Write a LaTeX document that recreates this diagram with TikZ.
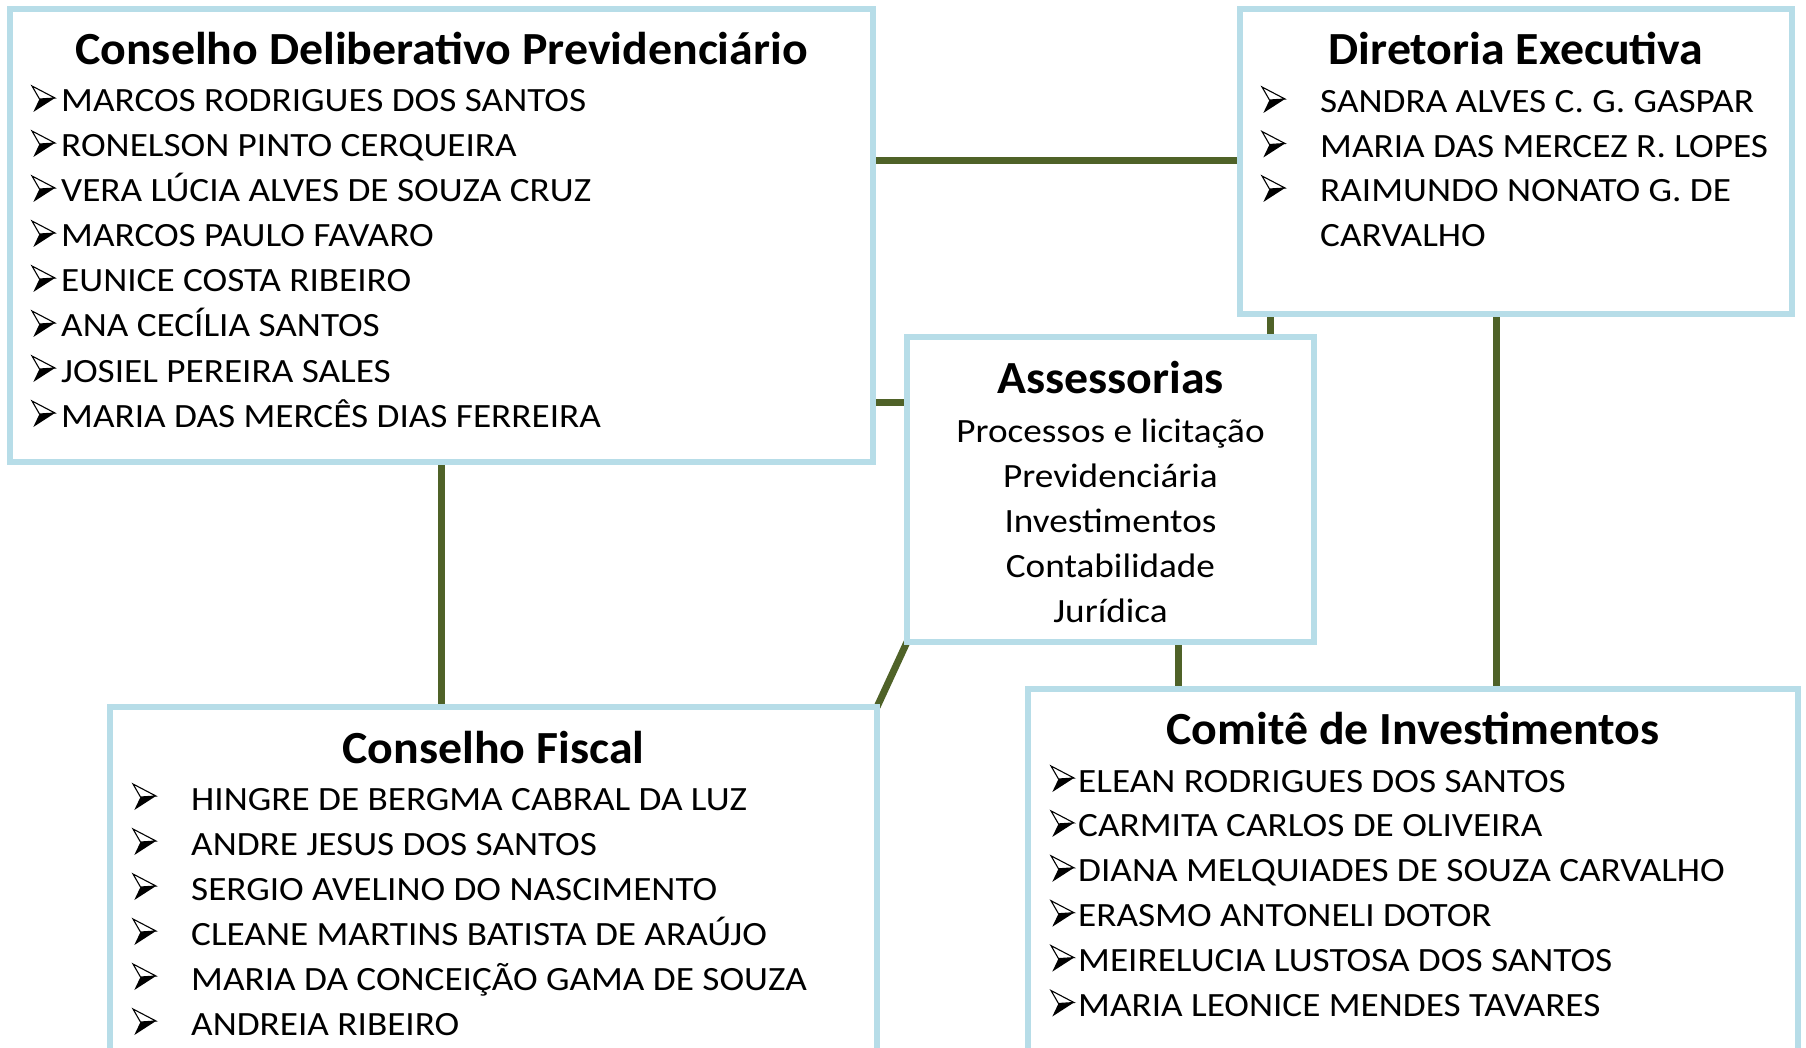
\documentclass[tikz,border=0pt]{standalone}
\usepackage{fontspec}
\setmainfont{Carlito}[FakeStretch=1.095]
\newfontfamily\ttlfont{Carlito}[FakeStretch=1.04]
\usetikzlibrary{backgrounds}
\definecolor{boxblue}{HTML}{B7DDE8}
\definecolor{linkgreen}{HTML}{4F6228}
\begin{document}
\begin{tikzpicture}[x=1pt,y=-1pt,
  orgbox/.style={draw=boxblue, line width=6.5pt, fill=white, rectangle, inner sep=0pt, outer sep=0pt, anchor=north west},
  ttl/.style={font=\fontsize{46}{50}\ttlfont\bfseries, anchor=base, inner sep=0pt},
  item/.style={font=\fontsize{34}{40}\selectfont, anchor=base west, inner sep=0pt},
  citem/.style={font=\fontsize{34}{40}\selectfont, anchor=base, inner sep=0pt},
  link/.style={draw=linkgreen, line width=7pt},
  arrbul/.pic={
    \fill[black] (7.5,-13) -- (23,-14) -- (1.3,0) -- cycle;
    \draw[black, line width=1.1pt, line join=miter, fill=white] (0,-26) -- (23,-14) -- (7.5,-13) -- cycle;
  }]
\useasboundingbox (0,0) rectangle (1806,1048);
\clip (0,0) rectangle (1806,1048);

% boxes
\node[orgbox, minimum width=863pt, minimum height=453pt] (cdp) at (10,9) {};
\node[orgbox, minimum width=552pt, minimum height=305pt] (de) at (1240,9) {};
\node[orgbox, minimum width=407pt, minimum height=305pt] (ass) at (907,337) {};
\node[orgbox, minimum width=767pt, minimum height=400pt] (cf) at (110,707) {};
\node[orgbox, minimum width=770pt, minimum height=400pt] (ci) at (1028,689) {};

% helper coordinates
\coordinate (h1) at (0,161);
\coordinate (h2) at (0,402);
\coordinate (v1) at (441,0);
\coordinate (v2) at (1270,0);
\coordinate (v3) at (1496,0);
\coordinate (v4) at (1178,0);

\begin{scope}[on background layer]
\draw[link] (cdp.east |- h1) -- (de.west |- h1);
\draw[link] (cdp.east |- h2) -- (ass.west |- h2);
\draw[link] (cdp.south -| v1) -- (cf.north -| v1);
\draw[link] (de.south -| v2) -- (ass.north -| v2);
\draw[link] (de.south -| v3) -- (ci.north -| v3);
\draw[link] (ass.south -| v4) -- (ci.north -| v4);
\draw[link] (ass.south west) -- (cf.north east);
\end{scope}

\begin{scope}[shift={(0,2)}]
% Conselho Deliberativo
\node[ttl] (cdp-t) at (441.5,63) {Conselho Deliberativo Previdenciário};
\foreach \t [count=\i] in {MARCOS RODRIGUES DOS SANTOS,RONELSON PINTO CERQUEIRA,VERA LÚCIA ALVES DE SOUZA CRUZ,MARCOS PAULO FAVARO,EUNICE COSTA RIBEIRO,ANA CECÍLIA SANTOS,JOSIEL PEREIRA SALES,MARIA DAS MERCÊS DIAS FERREIRA}{
  \pic (cdp-b\i) at (32,{110+45*(\i-1)}) {arrbul};
  \node[item] (cdp-l\i) at (61,{110+45*(\i-1)}) {\t};
}

% Diretoria Executiva
\node[ttl] (de-t) at (1516,63) {Diretoria Executiva};
\foreach \t [count=\i] in {SANDRA ALVES C. G. GASPAR,MARIA DAS MERCEZ R. LOPES,RAIMUNDO NONATO G. DE}{
  \pic (de-b\i) at (1262,{111+44.5*(\i-1)}) {arrbul};
  \node[item] (de-l\i) at (1320,{111+44.5*(\i-1)}) {\t};
}
\node[item] (de-l4) at (1320,244.5) {CARVALHO};

% Assessorias
\node[ttl] (ass-t) at (1110.5,391) {Assessorias};
\foreach \t [count=\i] in {Processos e licitação,Previdenciária,Investimentos,Contabilidade,Jurídica}{
  \node[citem] (ass-l\i) at (1110.5,{440+45*(\i-1)}) {\t};
}

% Conselho Fiscal
\node[ttl] (cf-t) at (493.5,761) {Conselho Fiscal};
\foreach \t [count=\i] in {HINGRE DE BERGMA CABRAL DA LUZ,ANDRE JESUS DOS SANTOS,SERGIO AVELINO DO NASCIMENTO,CLEANE MARTINS BATISTA DE ARAÚJO,MARIA DA CONCEIÇÃO GAMA DE SOUZA,ANDREIA RIBEIRO}{
  \pic (cf-b\i) at (133,{808+45*(\i-1)}) {arrbul};
  \node[item] (cf-l\i) at (191,{808+45*(\i-1)}) {\t};
}

% Comite de Investimentos
\node[ttl] (ci-t) at (1413,742) {Comitê de Investimentos};
\foreach \t [count=\i] in {ELEAN RODRIGUES DOS SANTOS,CARMITA CARLOS DE OLIVEIRA,DIANA MELQUIADES DE SOUZA CARVALHO,ERASMO ANTONELI DOTOR,MEIRELUCIA LUSTOSA DOS SANTOS,MARIA LEONICE MENDES TAVARES}{
  \pic (ci-b\i) at (1051,{790+44.9*(\i-1)}) {arrbul};
  \node[item] (ci-l\i) at (1078,{790+44.9*(\i-1)}) {\t};
}
\end{scope}
\end{tikzpicture}
\end{document}
